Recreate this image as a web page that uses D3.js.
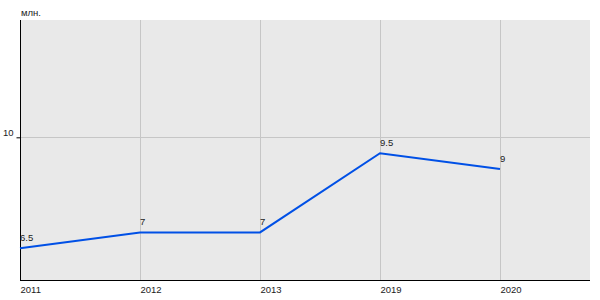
<!DOCTYPE html>
<html>
<head>
<meta charset="utf-8">
<script src="https://cdn.jsdelivr.net/npm/d3@7"></script>
<style>
  body { margin: 0; background: #fff; }
  text { font-family: "Liberation Sans", Arial, sans-serif; fill: #222; }
</style>
</head>
<body>
<div id="chart"></div>
<script>
const years = ["2011", "2012", "2013", "2019", "2020"];
const values = [6.5, 7, 7, 9.5, 9];
const yTicks = [10];
const unitLabel = "млн.";

const width = 600;
const height = 300;
const plotLeft = 20, plotRight = 590, plotTop = 20, plotBottom = 280;
const fontSize = 9.5;

const svg = d3.select("#chart")
    .append("svg")
    .attr("width", width)
    .attr("height", height);

const x = d3.scalePoint()
    .domain(years)
    .range([plotLeft, 500]);

const y = d3.scaleLinear()
    .domain([5.5, 13.7])
    .range([plotBottom, plotTop]);

// plot background
svg.append("rect")
    .attr("x", plotLeft)
    .attr("y", plotTop)
    .attr("width", plotRight - plotLeft)
    .attr("height", plotBottom - plotTop)
    .attr("fill", "#e9e9e9");

// grid
svg.selectAll(".vgrid")
    .data(years)
    .enter()
    .append("line")
    .attr("x1", d => Math.round(x(d)) + 0.5)
    .attr("x2", d => Math.round(x(d)) + 0.5)
    .attr("y1", plotTop)
    .attr("y2", plotBottom)
    .attr("stroke", "#c6c6c6");

svg.selectAll(".hgrid")
    .data(yTicks)
    .enter()
    .append("line")
    .attr("x1", plotLeft)
    .attr("x2", plotRight)
    .attr("y1", d => Math.round(y(d)) + 0.5)
    .attr("y2", d => Math.round(y(d)) + 0.5)
    .attr("stroke", "#c6c6c6");

// axes
const yAxis = d3.axisLeft(y).tickValues(yTicks).tickSize(4).tickPadding(3);
const gy = svg.append("g")
    .attr("transform", `translate(${plotLeft + 0.5},0)`)
    .call(yAxis);
gy.select(".domain").attr("d", `M0,${plotTop}V${plotBottom}`).attr("stroke", "#000");
gy.selectAll(".tick line").attr("stroke", "#000");
gy.selectAll(".tick text")
    .attr("font-size", fontSize)
    .attr("dy", "-0.2em")
    .style("font-family", "Liberation Sans, Arial, sans-serif")
    .attr("fill", "#222");

const xAxis = d3.axisBottom(x).tickSize(0).tickPadding(5);
const gx = svg.append("g")
    .attr("transform", `translate(0,${plotBottom + 0.5})`)
    .call(xAxis);
gx.select(".domain").attr("d", `M${plotLeft},0H${plotRight}`).attr("stroke", "#000");
gx.selectAll(".tick text")
    .attr("text-anchor", "start")
    .attr("font-size", fontSize)
    .attr("dy", "0.75em")
    .style("font-family", "Liberation Sans, Arial, sans-serif")
    .attr("fill", "#222");

svg.append("text")
    .attr("x", plotLeft + 1)
    .attr("y", 16)
    .attr("font-size", fontSize)
    .text(unitLabel);

// line
const line = d3.line()
    .x((d, i) => x(years[i]))
    .y(d => y(d));

svg.append("path")
    .datum(values)
    .attr("d", line)
    .attr("fill", "none")
    .attr("stroke", "#0050e6")
    .attr("stroke-width", 2);

// value labels
svg.selectAll(".val")
    .data(values)
    .enter()
    .append("text")
    .attr("x", (d, i) => x(years[i]))
    .attr("y", d => y(d) - 7)
    .attr("font-size", fontSize)
    .text(d => d);
</script>
</body>
</html>
